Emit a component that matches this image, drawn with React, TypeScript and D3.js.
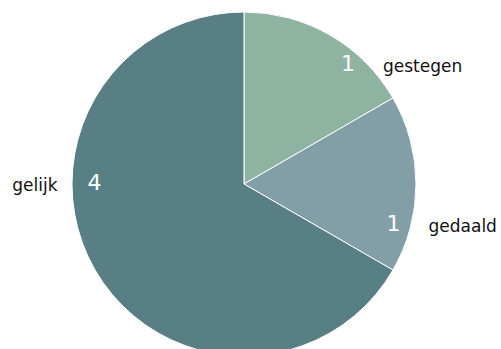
import React from "react";
import * as d3 from "d3";

const categories = ["gestegen", "gedaald", "gelijk"];
const values = [1, 1, 4];
const colors = ["#8fb3a1", "#829ea7", "#587f84"];

const W = 501;
const H = 349;
const cx = 244;
const cy = 184;
const R = 172;
// label placement (layout): angle offset in degrees from slice middle, radius, side
const labelAngleOffset = [10.7, 14.6, 30.8];
const labelRadius = [159.5, 154.5, 149.5];

export default function App() {
  const pie = d3.pie<number>().sort(null).value((d) => d)(values);
  const arc = d3.arc<d3.PieArcDatum<number>>().innerRadius(0).outerRadius(R);
  return (
    <svg width={W} height={H} style={{ position: "absolute", left: 0, top: 0 }}>
      <g transform={`translate(${cx},${cy})`}>
        {pie.map((p, i) => (
          <path key={i} d={arc(p) || ""} fill={colors[i]} stroke="#fff" strokeWidth={1} />
        ))}
        {pie.map((p, i) => {
          const mid = (p.startAngle + p.endAngle) / 2 + (labelAngleOffset[i] * Math.PI) / 180;
          const x = Math.sin(mid) * labelRadius[i];
          const y = -Math.cos(mid) * labelRadius[i];
          const right = x >= 0;
          return (
            <g key={"l" + i}>
              <text
                x={x}
                y={y + 8}
                textAnchor="middle"
                fill="#fff"
                fontFamily="DejaVu Sans"
                fontSize={22}
              >
                {values[i]}
              </text>
              <text
                x={right ? x + 35 : x - 37}
                y={y + 9}
                textAnchor={right ? "start" : "end"}
                fill="#111"
                fontFamily="DejaVu Sans"
                fontSize={17}
              >
                {categories[i]}
              </text>
            </g>
          );
        })}
      </g>
    </svg>
  );
}
